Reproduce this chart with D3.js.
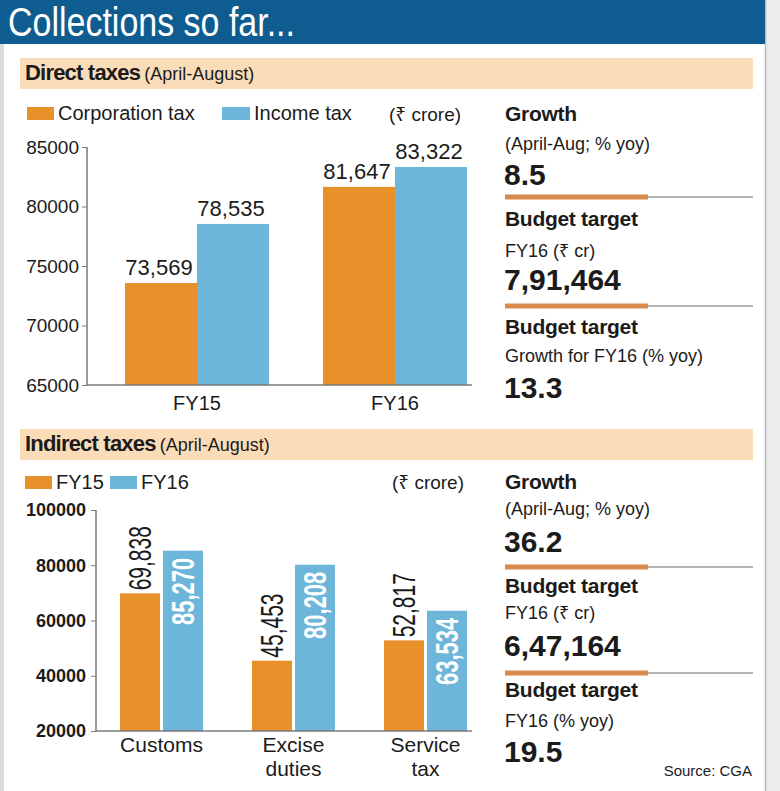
<!DOCTYPE html>
<html>
<head>
<meta charset="utf-8">
<script src="https://cdn.jsdelivr.net/npm/d3@7"></script>
<style>
  html, body { margin: 0; padding: 0; background: #ececec; }
  svg { display: block; font-family: "Liberation Sans", Arial, "Noto Sans", sans-serif; }
</style>
</head>
<body>
<svg id="chart" width="780" height="791"></svg>
<script>
// ---------- data ----------
const directYears = ["FY15", "FY16"];
const directSeries = ["Corporation tax", "Income tax"];
const corporationTax = [73569, 81647];
const incomeTax = [78535, 83322];
const directTicks = [65000, 70000, 75000, 80000, 85000];

const indirectCategories = ["Customs", "Excise duties", "Service tax"];
const indirectCategoryLines = [["Customs"], ["Excise", "duties"], ["Service", "tax"]];
const indirectSeries = ["FY15", "FY16"];
const indirectFY15 = [69838, 45453, 52817];
const indirectFY16 = [85270, 80208, 63534];
const indirectTicks = [20000, 40000, 60000, 80000, 100000];

const directStats = [
  { head: "Growth", sub: "(April-Aug; % yoy)", value: "8.5" },
  { head: "Budget target", sub: "FY16 (₹ cr)", value: "7,91,464" },
  { head: "Budget target", sub: "Growth for FY16 (% yoy)", value: "13.3" }
];
const indirectStats = [
  { head: "Growth", sub: "(April-Aug; % yoy)", value: "36.2" },
  { head: "Budget target", sub: "FY16 (₹ cr)", value: "6,47,164" },
  { head: "Budget target", sub: "FY16 (% yoy)", value: "19.5" }
];

// ---------- style ----------
const ORANGE = "#e8912b";
const BLUE = "#6db6da";
const TITLE_BLUE = "#0f5d90";
const PEACH = "#fbdcb8";
const TEXT = "#1b1b1b";
const AXIS = "#7a7a7a";
const fmt = d3.format(",");

const svg = d3.select("#chart");

// panel
svg.append("rect").attr("x", 0).attr("y", 0).attr("width", 766).attr("height", 791).attr("fill", "#fff");
svg.append("rect").attr("x", 0).attr("y", 0).attr("width", 4).attr("height", 791).attr("fill", "#dcdcdc");
svg.append("line").attr("x1", 765.5).attr("x2", 765.5).attr("y1", 0).attr("y2", 791).attr("stroke", "#b9b9b9").attr("stroke-width", 1.5);

// title bar
svg.append("rect").attr("x", 0).attr("y", 0).attr("width", 765).attr("height", 44).attr("fill", TITLE_BLUE);
svg.append("text").attr("x", 8).attr("y", 36).attr("fill", "#fff")
  .attr("font-size", 40).attr("textLength", 287).attr("lengthAdjust", "spacingAndGlyphs")
  .text("Collections so far...");

// section headers
function header(y, bold, rest) {
  svg.append("rect").attr("x", 20).attr("y", y).attr("width", 733).attr("height", 31).attr("fill", PEACH);
  const t = svg.append("text").attr("x", 25).attr("y", y + 22).attr("fill", TEXT);
  t.append("tspan").attr("font-weight", "bold").attr("font-size", 22).attr("letter-spacing", -0.8).text(bold);
  t.append("tspan").attr("font-size", 18).attr("dx", 4).text(rest);
}
header(58, "Direct taxes", "(April-August)");
header(429, "Indirect taxes", "(April-August)");

// legend helper
function legendItem(x, y, w, color, label, fs) {
  svg.append("rect").attr("x", x).attr("y", y).attr("width", w).attr("height", 13).attr("fill", color);
  svg.append("text").attr("x", x + w + 4).attr("y", y + 13).attr("font-size", fs).attr("fill", TEXT).text(label);
}

// ---------- Direct taxes chart ----------
legendItem(27, 107, 27, ORANGE, directSeries[0], 20);
legendItem(222, 107, 28, BLUE, directSeries[1], 20);
svg.append("text").attr("x", 389).attr("y", 121).attr("font-size", 19).attr("fill", TEXT).text("(₹ crore)");

const yD = d3.scaleLinear().domain([65000, 85000]).range([385, 147]);
const x0D = d3.scaleBand().domain(directYears).range([98, 494]);
const x1D = d3.scaleBand().domain(directSeries).range([0, 144]);
const directData = directYears.map((yr, i) => ({ yr, vals: [
  { s: directSeries[0], v: corporationTax[i], c: ORANGE },
  { s: directSeries[1], v: incomeTax[i], c: BLUE }
]}));

const gD = svg.append("g");
const grpD = gD.selectAll("g.grp").data(directData).join("g")
  .attr("transform", d => `translate(${x0D(d.yr) + x0D.bandwidth() / 2 - 72},0)`);
grpD.selectAll("rect").data(d => d.vals).join("rect")
  .attr("x", d => x1D(d.s)).attr("width", x1D.bandwidth())
  .attr("y", d => yD(d.v)).attr("height", d => yD(65000) - yD(d.v))
  .attr("fill", d => d.c);
grpD.selectAll("text.val").data(d => d.vals).join("text").attr("class", "val")
  .attr("x", d => x1D(d.s) + x1D.bandwidth() / 2 - 2)
  .attr("y", d => yD(d.v) - 8)
  .attr("text-anchor", "middle").attr("font-size", 22).attr("fill", TEXT)
  .text(d => fmt(d.v));

const axDY = svg.append("g").attr("transform", "translate(87,0)")
  .call(d3.axisLeft(yD).tickValues(directTicks).tickFormat(d3.format("d")).tickSize(5).tickPadding(3));
axDY.select(".domain").attr("stroke", AXIS).attr("stroke-width", 1.5).attr("d", `M0,${yD(85000)}V${yD(65000)}`);
axDY.selectAll(".tick line").attr("stroke", AXIS);
axDY.selectAll(".tick text").attr("font-size", 19).attr("fill", TEXT).attr("font-family", "Liberation Sans, Arial, sans-serif");

const axDX = svg.append("g").attr("transform", `translate(0,${yD(65000)})`)
  .call(d3.axisBottom(x0D).tickSize(0).tickPadding(8));
axDX.select(".domain").attr("stroke", AXIS).attr("stroke-width", 1.5).attr("d", "M87,0H472");
axDX.selectAll(".tick text").attr("font-size", 20).attr("fill", TEXT).attr("dy", "0.85em")
  .attr("font-family", "Liberation Sans, Arial, sans-serif");

// ---------- Indirect taxes chart ----------
legendItem(25, 476, 27, ORANGE, indirectSeries[0], 20);
legendItem(110, 476, 27, BLUE, indirectSeries[1], 20);
svg.append("text").attr("x", 464).attr("y", 489).attr("text-anchor", "end").attr("font-size", 19).attr("fill", TEXT).text("(₹ crore)");

const yI = d3.scaleLinear().domain([20000, 100000]).range([731, 510]);
const x0I = d3.scaleBand().domain(indirectCategories).range([95.5, 491.5]);
const x1I = d3.scaleBand().domain(indirectSeries).range([0, 83]).paddingInner(0.07);
const indirectData = indirectCategories.map((cat, i) => ({ cat, lines: indirectCategoryLines[i], vals: [
  { s: indirectSeries[0], v: indirectFY15[i], c: ORANGE },
  { s: indirectSeries[1], v: indirectFY16[i], c: BLUE }
]}));

const grpI = svg.append("g").selectAll("g.grp").data(indirectData).join("g")
  .attr("transform", d => `translate(${x0I(d.cat) + x0I.bandwidth() / 2 - 41.5},0)`);
grpI.selectAll("rect").data(d => d.vals).join("rect")
  .attr("x", d => x1I(d.s)).attr("width", x1I.bandwidth())
  .attr("y", d => yI(d.v)).attr("height", d => yI(20000) - yI(d.v))
  .attr("fill", d => d.c);
grpI.selectAll("text.val").data(d => d.vals).join("text").attr("class", "val")
  .attr("transform", d => {
    const cx = x1I(d.s) + x1I.bandwidth() / 2;
    const y = d.s === "FY15" ? yI(d.v) - 3 : yI(d.v) + 7;
    return `translate(${cx},${y}) rotate(-90) scale(1,1.45)`;
  })
  .attr("text-anchor", d => d.s === "FY15" ? "start" : "end")
  .attr("dy", "0.36em")
  .attr("font-size", d => d.s === "FY15" ? 21 : 22)
  .attr("font-weight", d => d.s === "FY15" ? "normal" : "bold")
  .attr("fill", d => d.s === "FY15" ? TEXT : "#fff")
  .text(d => fmt(d.v));

const axIY = svg.append("g").attr("transform", "translate(96,0)")
  .call(d3.axisLeft(yI).tickValues(indirectTicks).tickFormat(d3.format("d")).tickSize(5).tickPadding(5));
axIY.select(".domain").attr("stroke", AXIS).attr("stroke-width", 1.5).attr("d", `M0,${yI(100000)}V${yI(20000)}`);
axIY.selectAll(".tick line").attr("stroke", AXIS);
axIY.selectAll(".tick text").attr("font-size", 18).attr("fill", TEXT).attr("font-weight", 600)
  .attr("font-family", "Liberation Sans, Arial, sans-serif");

const axIX = svg.append("g").attr("transform", `translate(0,${yI(20000)})`)
  .call(d3.axisBottom(x0I).tickSize(0).tickFormat(() => ""));
axIX.select(".domain").attr("stroke", AXIS).attr("stroke-width", 1.5).attr("d", "M96,0H472");
axIX.selectAll(".tick").each(function(d, i) {
  const tick = d3.select(this);
  tick.select("text").remove();
  indirectData[i].lines.forEach((ln, j) => {
    tick.append("text").attr("x", 0).attr("y", 21 + j * 24)
      .attr("text-anchor", "middle").attr("font-size", 21).attr("fill", TEXT)
      .attr("font-family", "Liberation Sans, Arial, sans-serif").text(ln);
  });
});

// ---------- stat panels ----------
function statPanel(stats, ys, lines) {
  const g = svg.append("g").attr("fill", TEXT);
  stats.forEach((s, i) => {
    const y = ys[i];
    g.append("text").attr("x", 505).attr("y", y[0]).attr("font-size", 21).attr("font-weight", "bold").attr("letter-spacing", -0.3).text(s.head);
    g.append("text").attr("x", 505).attr("y", y[1]).attr("font-size", 18).text(s.sub);
    g.append("text").attr("x", 504).attr("y", y[2]).attr("font-size", 30).attr("font-weight", "bold").text(s.value);
  });
  lines.forEach(ly => {
    g.append("line").attr("x1", 648).attr("x2", 753).attr("y1", ly).attr("y2", ly).attr("stroke", "#9a9a9a").attr("stroke-width", 1.5);
    g.append("line").attr("x1", 505).attr("x2", 648).attr("y1", ly).attr("y2", ly).attr("stroke", "#d68b4c").attr("stroke-width", 5);
  });
}
statPanel(directStats, [[121, 150, 185], [226, 257, 290], [334, 362, 398]], [197, 306]);
statPanel(indirectStats, [[489, 515, 552], [593, 619, 656], [697, 727, 762]], [567, 673]);

svg.append("text").attr("x", 752).attr("y", 776).attr("text-anchor", "end")
  .attr("font-size", 15).attr("fill", TEXT).text("Source: CGA");
</script>
</body>
</html>
